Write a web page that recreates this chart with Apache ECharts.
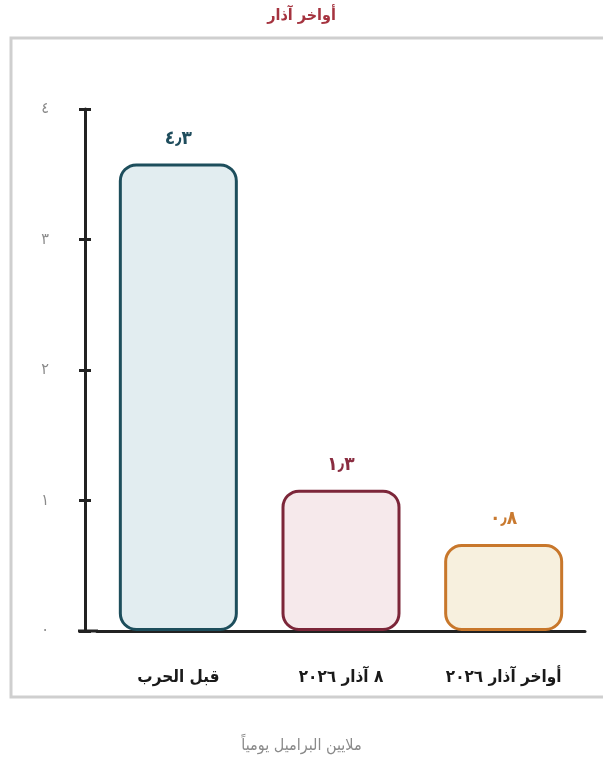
<!DOCTYPE html>
<html>
<head>
<meta charset="utf-8">
<script src="https://cdn.jsdelivr.net/npm/echarts@6/dist/echarts.min.js"></script>
<style>
  html, body { margin: 0; padding: 0; background: #fff; }
  #chart { width: 603px; height: 764px; }
</style>
</head>
<body>
<div id="chart"></div>
<script>
var categories = ['قبل الحرب', '٨ آذار ٢٠٢٦', 'أواخر آذار ٢٠٢٦']
var values = [4.3, 1.3, 0.8]
var valueLabels = ['٤٫٣', '١٫٣', '٠٫٨']
var yTickLabels = ['٠', '١', '٢', '٣', '٤']
// the picture spaces its ticks 1.2 units apart while labelling them 0..4
var tickStep = 1.2

var strokeColors = ['#1d4e5c', '#7c2639', '#c8772b']
var fillColors = ['#e2edf0', '#f6e9eb', '#f7f0de']
var labelColors = ['#1f4d5d', '#8a2c40', '#c97a30']

var font = 'DejaVu Sans Condensed'

var myChart = echarts.init(document.getElementById('chart'))

var option = {
  backgroundColor: '#fff',
  animation: false,
  title: [{
    text: 'أواخر آذار',
    left: 'center',
    top: 3,
    textStyle: { color: '#a5333f', fontSize: 16, fontWeight: 'bold', fontFamily: font }
  }, {
    text: 'ملايين البراميل يومياً',
    left: 'center',
    top: 733,
    textStyle: { color: '#8a8a8a', fontSize: 16, fontWeight: 'normal', fontFamily: font }
  }],
  graphic: [{
    type: 'rect',
    shape: { x: 11, y: 38, width: 620, height: 659 },
    style: { fill: 'none', stroke: '#cfcfcf', lineWidth: 3 },
    z: -1
  }, {
    type: 'line',
    shape: { x1: 78, y1: 631, x2: 98, y2: 631 },
    style: { stroke: '#222', lineWidth: 3 },
    z: 10
  }],
  grid: {
    left: 97,
    right: 18,
    top: 109,
    bottom: 133
  },
  xAxis: {
    type: 'category',
    data: categories,
    axisLine: { lineStyle: { color: '#222', width: 3 } },
    axisTick: { show: false },
    axisLabel: {
      color: '#1a1a1a',
      fontSize: 17,
      fontWeight: 'bold',
      fontFamily: font,
      margin: 38
    }
  },
  yAxis: [{
    type: 'value',
    min: 0,
    max: tickStep * 4,
    interval: tickStep,
    offset: 12,
    splitLine: { show: false },
    axisLine: { show: true, lineStyle: { color: '#222', width: 3 } },
    axisTick: { show: true, length: 6, lineStyle: { color: '#222', width: 3 } },
    axisLabel: {
      color: '#8a8a8a',
      fontSize: 16,
      fontFamily: font,
      margin: 36,
      formatter: function(v) {
        return yTickLabels[Math.round(v / tickStep)]
      }
    }
  }, {
    type: 'value',
    position: 'left',
    min: 0,
    max: tickStep * 4,
    interval: tickStep,
    offset: 12,
    splitLine: { show: false },
    axisLine: { show: false },
    axisTick: { show: true, inside: true, length: 6, lineStyle: { color: '#222', width: 3 } },
    axisLabel: { show: false }
  }],
  series: [{
    type: 'bar',
    barWidth: 119,
    yAxisIndex: 0,
    data: values.map(function(v, i) {
      return {
        value: v,
        itemStyle: {
          color: fillColors[i],
          borderColor: strokeColors[i],
          borderWidth: 3,
          borderRadius: 16
        },
        label: {
          color: labelColors[i]
        }
      }
    }),
    label: {
      show: true,
      position: 'top',
      distance: 15,
      fontSize: 19,
      fontWeight: 'bold',
      fontFamily: font,
      formatter: function(p) {
        return valueLabels[p.dataIndex]
      }
    }
  }]
}

myChart.setOption(option)
</script>
</body>
</html>
